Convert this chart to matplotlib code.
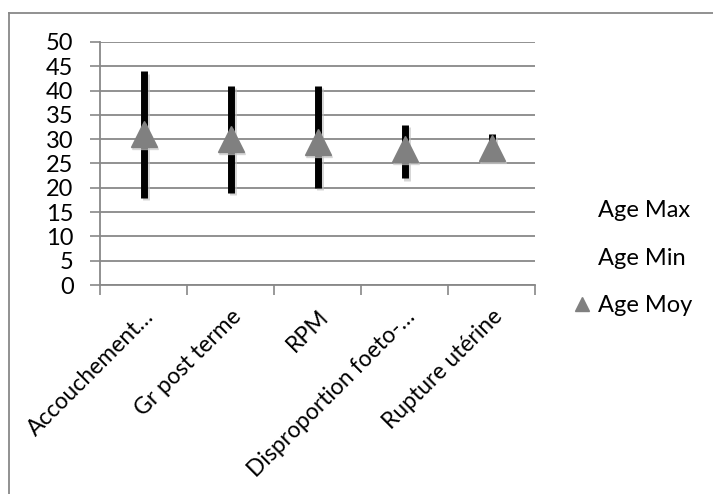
import matplotlib
matplotlib.use("Agg")
import matplotlib.pyplot as plt
from matplotlib.lines import Line2D
import numpy as np

categories = ["Accouchement…", "Gr post terme", "RPM", "Disproportion foeto-…", "Rupture utérine"]
age_max = [44, 41, 41, 33, 31]
age_min = [18, 19, 20, 22, 27]
age_moy = [31, 30, 29.5, 28, 28.2]

plt.rcParams['font.family'] = ['Lato', 'DejaVu Sans']

W, H = 713, 494
fig = plt.figure(figsize=(W/100, H/100), dpi=100)
ax = fig.add_axes([100/W, 1-285/H, 435/W, 243/H])

x = np.arange(len(categories))
# shadows
ax.vlines(x + 0.03, np.array(age_min) - 0.5, np.array(age_max) - 0.5, color='#bbbbbb', lw=5, zorder=2, alpha=0.6)
ax.vlines(x, age_min, age_max, color='black', lw=5, zorder=3)
ax.plot(x + 0.02, np.array(age_moy) - 0.4, linestyle='none', marker='^', markersize=18.5, color='#c8c8c8', alpha=0.6, zorder=4)
ax.plot(x, age_moy, linestyle='none', marker='^', markersize=18.5, color='#808080', zorder=5)

ax.set_xlim(-0.5, len(categories) - 0.5)
ax.set_ylim(0, 50)
ax.set_yticks(range(0, 51, 5))
ax.set_xticks(np.arange(-0.5, len(categories), 1.0))
ax.set_xticklabels([])
ax.set_xticks(x, minor=True)
ax.set_xticklabels(categories, minor=True, rotation=45, ha='right', va='top', rotation_mode='anchor', fontsize=16.5)
ax.tick_params(axis='x', which='minor', length=0, pad=15)
ax.tick_params(axis='x', which='major', length=7, color='#888888', width=1.2)
ax.tick_params(axis='y', length=7, color='#888888', width=1.2, labelsize=17, pad=12)
ax.yaxis.grid(True, color='#888888', lw=1.3)
ax.set_axisbelow(True)
for s in ['top', 'right']:
    ax.spines[s].set_visible(False)
for s in ['left', 'bottom']:
    ax.spines[s].set_color('#888888')
    ax.spines[s].set_linewidth(1.3)

handles = [Line2D([], [], linestyle='none'),
           Line2D([], [], linestyle='none'),
           Line2D([], [], linestyle='none', marker='^', markersize=10.5, color='#808080')]
leg = fig.legend(handles, ["Age Max", "Age Min", "Age Moy"], loc='upper left',
                 bbox_to_anchor=(550/W, 1-179/H), frameon=False, fontsize=17,
                 handlelength=0.9, handletextpad=0.25, labelspacing=1.12)

# outer border (top and left edges)
fig.add_artist(Line2D([9/W, 9/W], [0, 1-13/H], transform=fig.transFigure, color='#888888', lw=1.3))
fig.add_artist(Line2D([9/W, 1], [1-13/H, 1-13/H], transform=fig.transFigure, color='#888888', lw=1.3))

fig.savefig("out.png", dpi=100)
